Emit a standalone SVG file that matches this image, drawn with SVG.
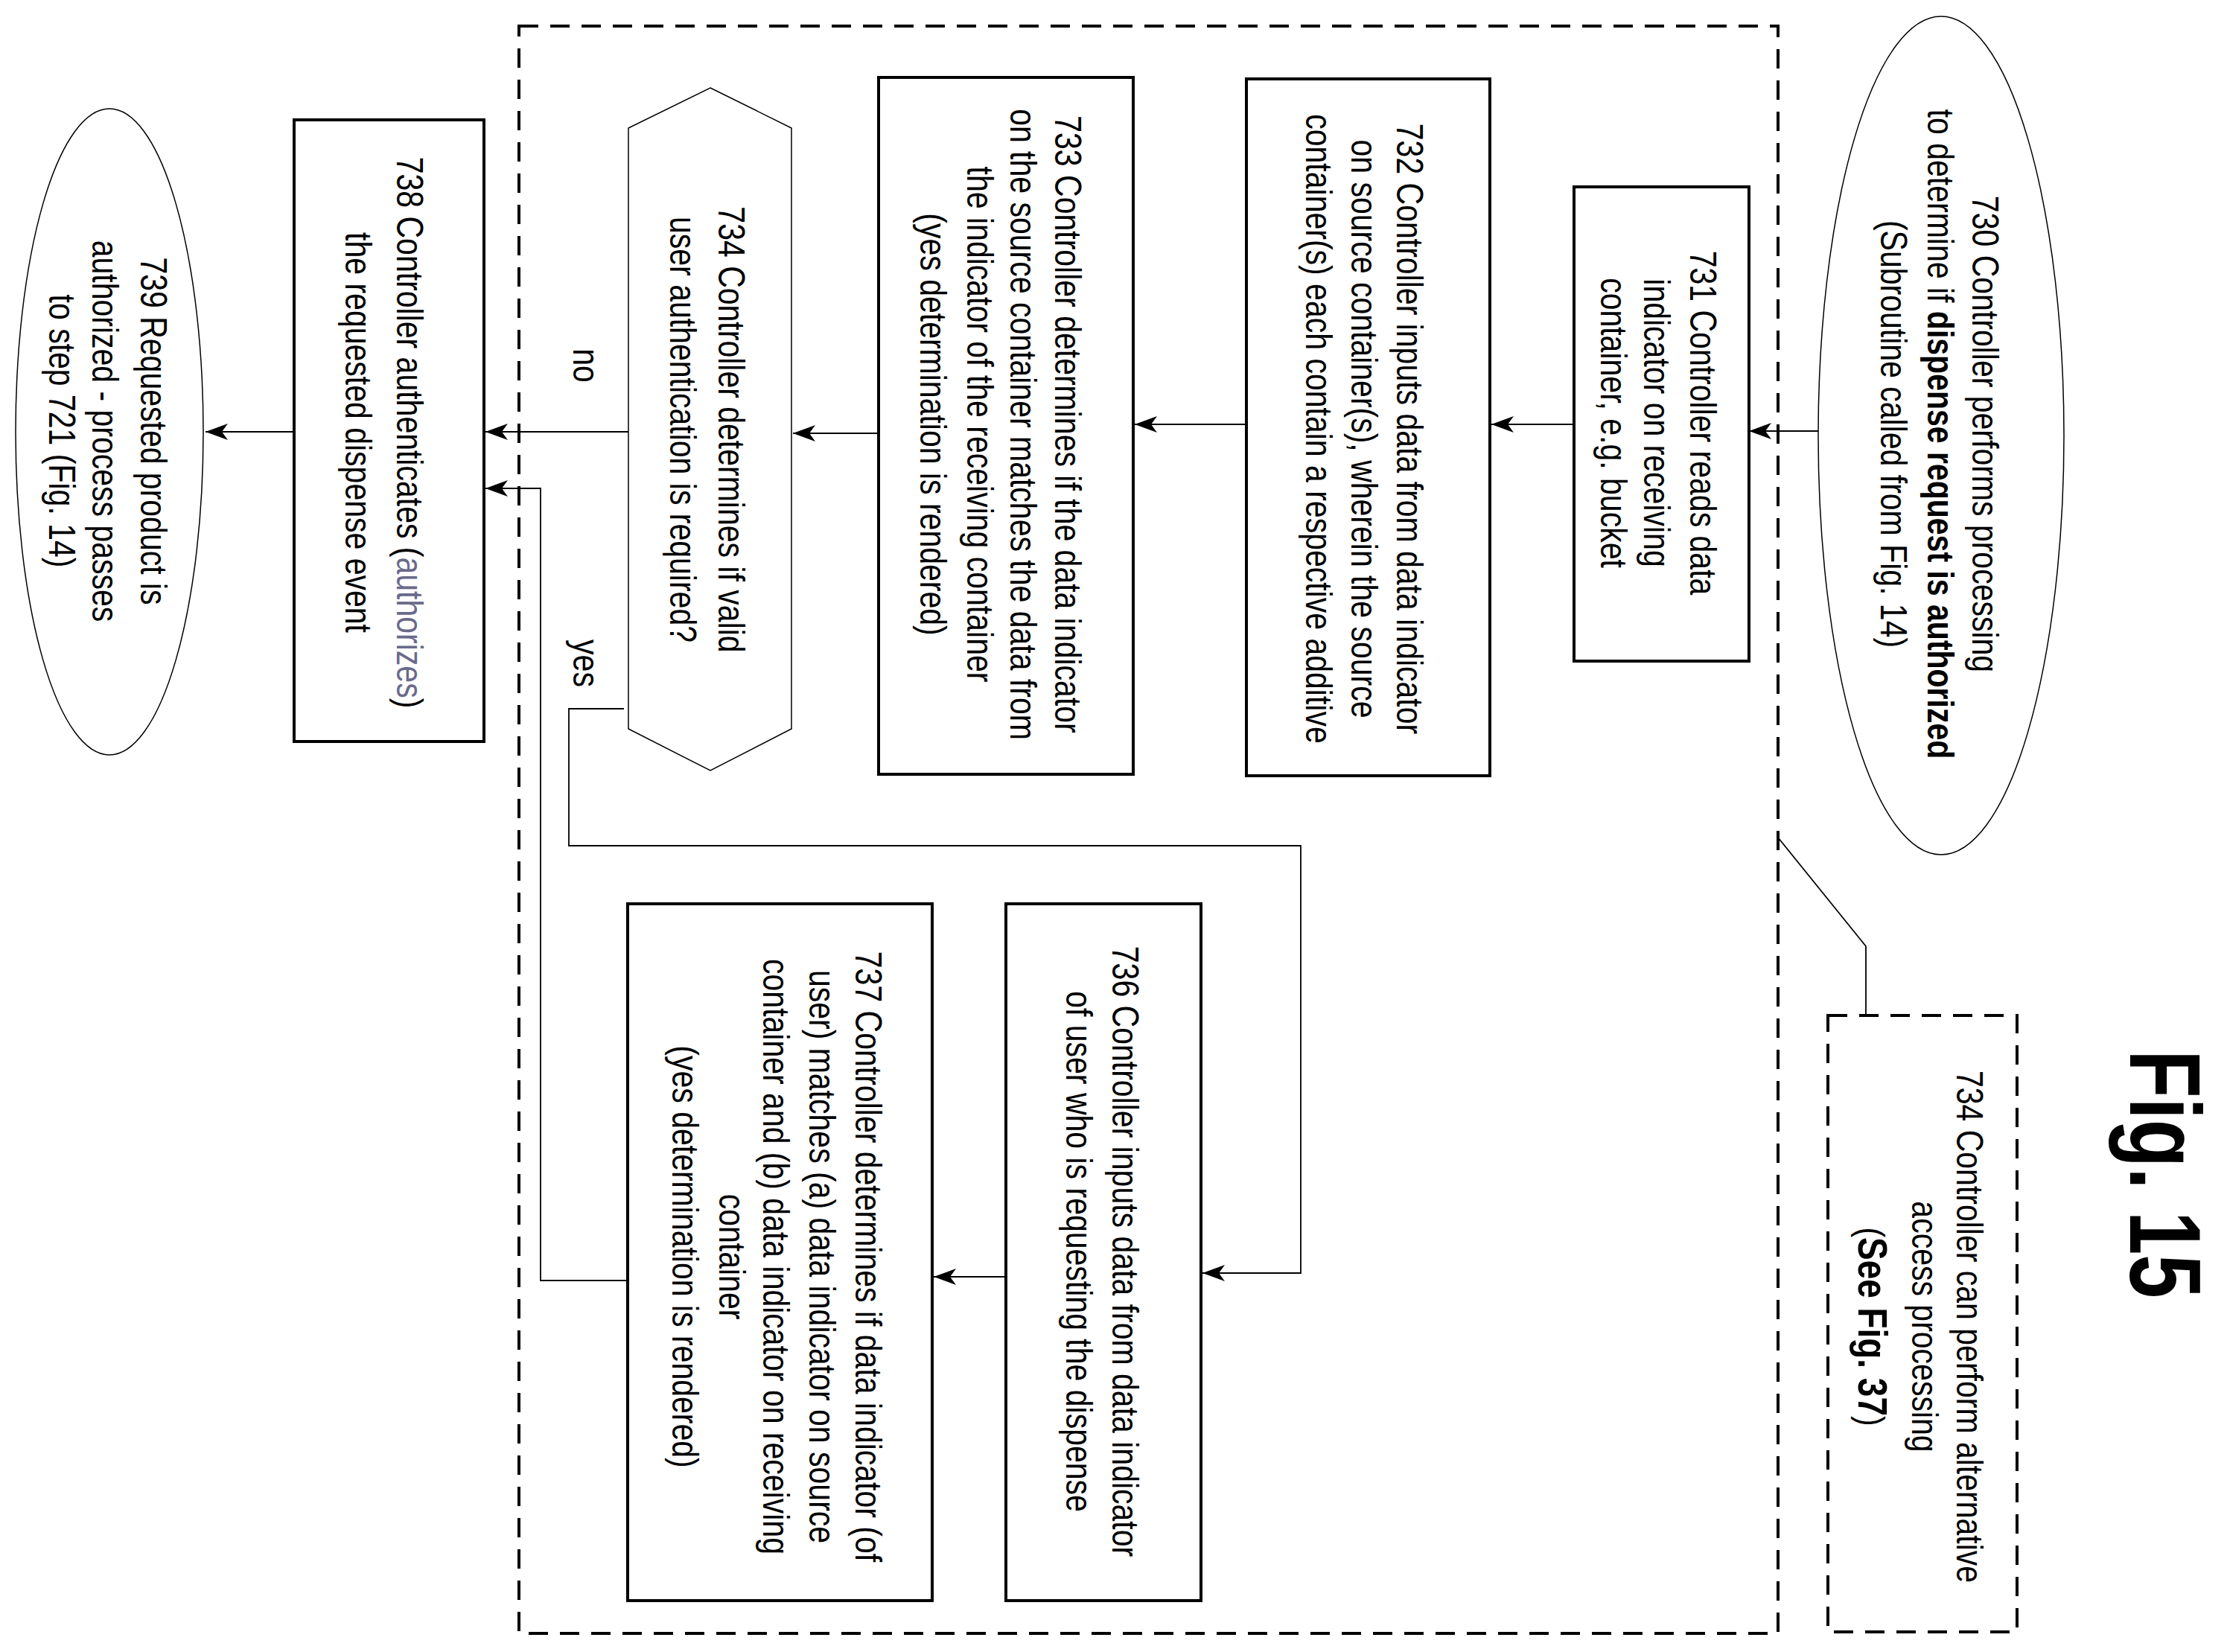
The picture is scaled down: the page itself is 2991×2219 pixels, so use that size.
<svg xmlns="http://www.w3.org/2000/svg" width="2991" height="2219" viewBox="0 0 2991 2219">
<style>
.box{fill:#fff;stroke:#000;stroke-width:4}
.thin{fill:#fff;stroke:#000;stroke-width:1.5}
.dash{fill:none;stroke:#000;stroke-width:4;stroke-dasharray:26 16}
.ln{fill:none;stroke:#000;stroke-width:1.8}
text{font-family:"Liberation Sans",Arial,sans-serif;font-size:50px;fill:#000;text-anchor:middle}
.b{font-weight:bold}
.g{fill:#6a6a8a}
</style>
<defs>
<marker id="ah" markerWidth="34" markerHeight="24" refX="30" refY="12" orient="auto" markerUnits="userSpaceOnUse">
<path d="M0,1 L30,12 L0,23 L8,12 z" fill="#000"/>
</marker>
</defs>
<rect x="0" y="0" width="2991" height="2219" fill="#fff"/>
<g id="container"><rect class="dash" x="697" y="35" width="1691" height="2159"/></g>
<g id="n730"><ellipse class="thin" cx="2607" cy="585" rx="165" ry="563"/>
<text transform="translate(0,583) rotate(90) scale(0.82,1)"><tspan x="0" y="-2649">730 Controller performs processing</tspan><tspan x="0" y="-2589">to determine if <tspan class="b">dispense request is authorized</tspan></tspan><tspan x="0" y="-2526">(Subroutine called from Fig. 14)</tspan></text></g>
<g id="n731"><rect class="box" x="2114" y="251" width="235" height="637"/>
<text transform="translate(0,568) rotate(90) scale(0.82,1)"><tspan x="0" y="-2270">731 Controller reads data</tspan><tspan x="0" y="-2208">indicator on receiving</tspan><tspan x="0" y="-2150">container, e.g. bucket</tspan></text></g>
<g id="n732"><rect class="box" x="1674" y="106" width="327" height="936"/>
<text transform="translate(0,576) rotate(90) scale(0.82,1)"><tspan x="0" y="-1876">732 Controller inputs data from data indicator</tspan><tspan x="0" y="-1815">on source container(s), wherein the source</tspan><tspan x="0" y="-1754">container(s) each contain a respective additive</tspan></text></g>
<g id="n733"><rect class="box" x="1180" y="104" width="342" height="936"/>
<text transform="translate(0,570) rotate(90) scale(0.82,1)"><tspan x="0" y="-1417">733 Controller determines if the data indicator</tspan><tspan x="0" y="-1357">on the source container matches the data from</tspan><tspan x="0" y="-1299">the indicator of the receiving container</tspan><tspan x="0" y="-1236">(yes determination is rendered)</tspan></text></g>
<g id="n734"><polygon class="thin" points="954,118 1063,172 1063,979 954,1035 844,979 844,172"/>
<text transform="translate(0,577) rotate(90) scale(0.82,1)"><tspan x="0" y="-965">734 Controller determines if valid</tspan><tspan x="0" y="-900">user authentication is required?</tspan></text></g>
<g id="n736"><rect class="box" x="1351" y="1214" width="262" height="936"/>
<text transform="translate(0,1681) rotate(90) scale(0.82,1)"><tspan x="0" y="-1494">736 Controller inputs data from data indicator</tspan><tspan x="0" y="-1432">of user who is requesting the dispense</tspan></text></g>
<g id="n737"><rect class="box" x="843" y="1214" width="409" height="936"/>
<text transform="translate(0,1688) rotate(90) scale(0.82,1)"><tspan x="0" y="-1149">737 Controller determines if data indicator (of</tspan><tspan x="0" y="-1087">user) matches (a) data indicator on source</tspan><tspan x="0" y="-1025">container and (b) data indicator on receiving</tspan><tspan x="0" y="-966">container</tspan><tspan x="0" y="-903">(yes determination is rendered)</tspan></text></g>
<g id="n738"><rect class="box" x="395" y="161" width="255" height="835"/>
<text transform="translate(0,581) rotate(90) scale(0.82,1)"><tspan x="0" y="-533">738 Controller authenticates (<tspan class="g">authorizes</tspan>)</tspan><tspan x="0" y="-464">the requested dispense event</tspan></text></g>
<g id="n739"><ellipse class="thin" cx="147" cy="580" rx="126" ry="434"/>
<text transform="translate(0,579) rotate(90) scale(0.82,1)"><tspan x="0" y="-189">739 Requested product is</tspan><tspan x="0" y="-124">authorized - process passes</tspan><tspan x="0" y="-66">to step 721 (Fig. 14)</tspan></text></g>
<g id="note"><rect class="dash" x="2455" y="1364" width="254" height="828"/>
<text transform="translate(0,1782) rotate(90) scale(0.82,1)"><tspan x="0" y="-2628">734 Controller can perform alternative</tspan><tspan x="0" y="-2568">access processing</tspan><tspan x="0" y="-2496">(<tspan class="b" style="font-size:56px">See Fig. 37</tspan>)</tspan></text></g>
<g id="title"><text class="b" style="font-size:135px" transform="translate(0,1577) rotate(90) scale(0.78,1)" x="0" y="-2861">Fig. 15</text></g>
<g id="connectors">
<line class="ln" x1="2442" y1="579" x2="2349" y2="579" marker-end="url(#ah)"/>
<line class="ln" x1="2114" y1="570" x2="2003" y2="570" marker-end="url(#ah)"/>
<line class="ln" x1="1674" y1="570" x2="1524" y2="570" marker-end="url(#ah)"/>
<line class="ln" x1="1180" y1="582" x2="1065" y2="582" marker-end="url(#ah)"/>
<line class="ln" x1="844" y1="580" x2="652" y2="580" marker-end="url(#ah)"/>
<line class="ln" x1="395" y1="580" x2="276" y2="580" marker-end="url(#ah)"/>
<polyline class="ln" points="838,952 764,952 764,1136 1747,1136 1747,1710 1615,1710" marker-end="url(#ah)"/>
<line class="ln" x1="1351" y1="1715" x2="1254" y2="1715" marker-end="url(#ah)"/>
<polyline class="ln" points="843,1720 726,1720 726,656 652,656" marker-end="url(#ah)"/>
<polyline class="ln" points="2388,1125 2506,1271 2506,1364"/>
<text transform="translate(0,491) rotate(90) scale(0.82,1)" x="0" y="-770">no</text>
<text transform="translate(0,891) rotate(90) scale(0.82,1)" x="0" y="-770">yes</text>
</g>
</svg>
